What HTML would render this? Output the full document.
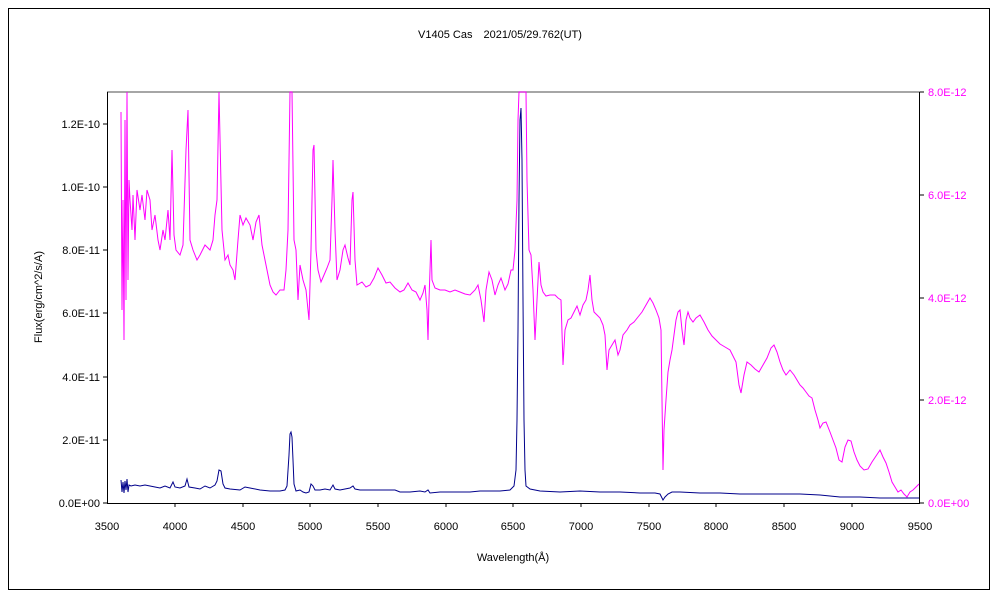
<!DOCTYPE html>
<html><head><meta charset="utf-8"><style>
body{margin:0;background:#fff;}
svg text{font-family:"Liberation Sans","Noto Sans CJK JP",sans-serif;font-size:11px;}
</style></head><body>
<svg width="1000" height="600" viewBox="0 0 1000 600">
<rect x="0" y="0" width="1000" height="600" fill="#fff"/>
<rect x="8.5" y="8.5" width="981" height="581" fill="none" stroke="#000" stroke-width="1"/>
<text x="500" y="38" text-anchor="middle">V1405 Cas　2021/05/29.762(UT)</text>
<line x1="107" y1="92" x2="920" y2="92" stroke="#888" stroke-width="1.5"/>
<line x1="107.5" y1="92" x2="107.5" y2="503" stroke="#000"/>
<line x1="919.5" y1="92" x2="919.5" y2="503" stroke="#000"/>
<line x1="107" y1="503.5" x2="920" y2="503.5" stroke="#000"/>
<g stroke="#000">
<line x1="103" y1="503" x2="107" y2="503"/><line x1="103" y1="440" x2="107" y2="440"/><line x1="103" y1="377" x2="107" y2="377"/><line x1="103" y1="313" x2="107" y2="313"/><line x1="103" y1="250" x2="107" y2="250"/><line x1="103" y1="187" x2="107" y2="187"/><line x1="103" y1="124" x2="107" y2="124"/>
<line x1="920" y1="503" x2="924" y2="503"/><line x1="920" y1="400" x2="924" y2="400"/><line x1="920" y1="298" x2="924" y2="298"/><line x1="920" y1="195" x2="924" y2="195"/><line x1="920" y1="92" x2="924" y2="92"/>
</g>
<g text-anchor="end">
<text x="100" y="507">0.0E+00</text><text x="100" y="444">2.0E-11</text><text x="100" y="381">4.0E-11</text><text x="100" y="317">6.0E-11</text><text x="100" y="254">8.0E-11</text><text x="100" y="191">1.0E-10</text><text x="100" y="128">1.2E-10</text>
</g>
<g fill="#f0f">
<text x="928" y="507">0.0E+00</text><text x="928" y="404">2.0E-12</text><text x="928" y="302">4.0E-12</text><text x="928" y="199">6.0E-12</text><text x="928" y="96">8.0E-12</text>
</g>
<g text-anchor="middle">
<text x="107" y="530">3500</text><text x="175" y="530">4000</text><text x="243" y="530">4500</text><text x="310" y="530">5000</text><text x="378" y="530">5500</text><text x="446" y="530">6000</text><text x="513" y="530">6500</text><text x="581" y="530">7000</text><text x="649" y="530">7500</text><text x="716" y="530">8000</text><text x="784" y="530">8500</text><text x="852" y="530">9000</text><text x="920" y="530">9500</text>
<text x="513" y="561">Wavelength(Å)</text>
</g>
<text transform="translate(42,297) rotate(-90)" text-anchor="middle">Flux(erg/cm^2/s/A)</text>
<g stroke="#000" >
<line x1="175" y1="503" x2="175" y2="507"/><line x1="243" y1="503" x2="243" y2="507"/><line x1="310" y1="503" x2="310" y2="507"/><line x1="378" y1="503" x2="378" y2="507"/><line x1="446" y1="503" x2="446" y2="507"/><line x1="513" y1="503" x2="513" y2="507"/><line x1="581" y1="503" x2="581" y2="507"/><line x1="649" y1="503" x2="649" y2="507"/><line x1="716" y1="503" x2="716" y2="507"/><line x1="784" y1="503" x2="784" y2="507"/><line x1="852" y1="503" x2="852" y2="507"/>
</g>
<polyline fill="none" stroke="#f0f" stroke-width="1" points="121,112 122,310 123,200 124,340 125,120 126,300 127,92 128,280 129,180 130,200 132,230 133,195 135,240 137,190 140,210 142,195 145,220 147,190 150,200 152,230 155,215 158,240 160,250 163,230 165,240 168,210 170,240 172,150 174,235 176,250 180,255 183,245 186,150 188,110 190,240 193,250 197,260 200,255 205,245 210,250 213,240 215,215 217,200 219,92 222,230 225,260 228,255 230,265 233,270 235,280 238,240 240,215 243,225 246,218 250,225 253,240 256,222 259,215 262,245 265,260 268,275 270,285 273,292 276,295 280,290 284,290 286,270 288,230 290,92 292,92 294,240 296,250 298,300 300,265 303,280 306,290 309,320 311,250 313,150 314,145 316,250 318,270 321,282 324,275 327,268 330,260 332,200 333,160 335,230 337,280 340,270 343,250 345,245 348,258 350,265 352,200 353,192 355,260 357,285 362,282 366,287 370,285 374,278 378,268 382,275 386,283 390,282 395,288 400,292 404,290 408,283 412,290 416,292 420,300 423,293 425,285 427,310 428,340 429,300 431,240 432,280 435,288 440,290 445,290 450,292 455,290 460,292 465,294 470,295 475,290 478,285 481,300 484,322 486,290 489,272 492,280 495,295 498,285 501,278 505,290 508,284 511,270 513,270 515,250 517,200 518,120 519,92 526,92 527,180 529,250 531,255 533,290 535,340 537,300 539,262 541,285 543,292 546,296 550,295 555,295 558,298 561,300 563,365 565,330 568,320 571,318 574,312 577,306 580,315 583,305 586,300 588,290 590,275 592,300 594,312 597,315 600,318 603,325 605,335 607,370 609,350 612,345 615,340 618,355 620,350 623,335 627,330 630,325 634,322 638,317 642,312 646,305 650,298 653,303 656,310 659,318 661,330 663,470 664,430 666,400 668,372 670,360 672,350 674,335 676,320 678,312 680,310 682,330 684,345 686,320 688,312 690,318 693,322 696,318 700,315 704,322 708,330 712,336 716,340 720,344 725,347 730,350 733,356 736,362 739,385 741,393 744,375 747,362 751,365 755,369 759,372 763,365 767,358 771,348 774,345 777,352 780,362 783,370 786,375 790,370 794,375 797,380 800,385 803,388 806,392 809,396 812,398 815,410 818,420 820,428 823,423 826,422 830,432 833,440 836,448 839,460 842,462 845,447 848,440 851,441 854,452 857,460 860,466 864,470 868,469 872,462 876,456 880,450 883,457 886,463 889,472 892,482 895,487 898,492 901,490 904,494 907,497 910,492 913,490 916,487 919,484"/>
<polyline fill="none" stroke="#00008b" stroke-width="1" points="121,480 122,492 123,482 124,493 125,481 126,490 127,479 128,492 129,485 131,486 135,485 140,486 145,485 150,486 155,487 160,488 165,486 170,488 173,482 175,487 180,488 185,486 187,479 189,487 195,488 200,489 205,486 210,488 215,485 217,481 219,470 221,471 223,484 225,488 230,489 240,490 245,487 250,488 260,490 270,491 280,491 285,490 287,486 289,455 290,434 291,432 292,437 293,460 294,484 296,491 300,490 303,492 306,493 309,492 311,484 313,486 315,490 320,490 325,489 330,490 333,485 335,489 340,490 345,489 350,488 353,486 355,489 360,490 380,490 395,490 400,492 410,492 420,491 425,492 428,490 430,493 440,492 470,492 480,491 490,491 500,491 510,490 514,486 516,470 517,420 518,330 519,200 520,120 521,108 522,160 523,300 524,420 525,470 526,486 530,489 535,490 540,491 560,492 580,491 600,492 620,492 640,493 655,493 660,494 662,498 663,500 665,497 668,494 672,492 680,492 700,493 720,493 740,494 760,494 780,494 800,494 820,495 840,497 860,497 880,498 900,498 919,498"/>
</svg>
</body></html>
